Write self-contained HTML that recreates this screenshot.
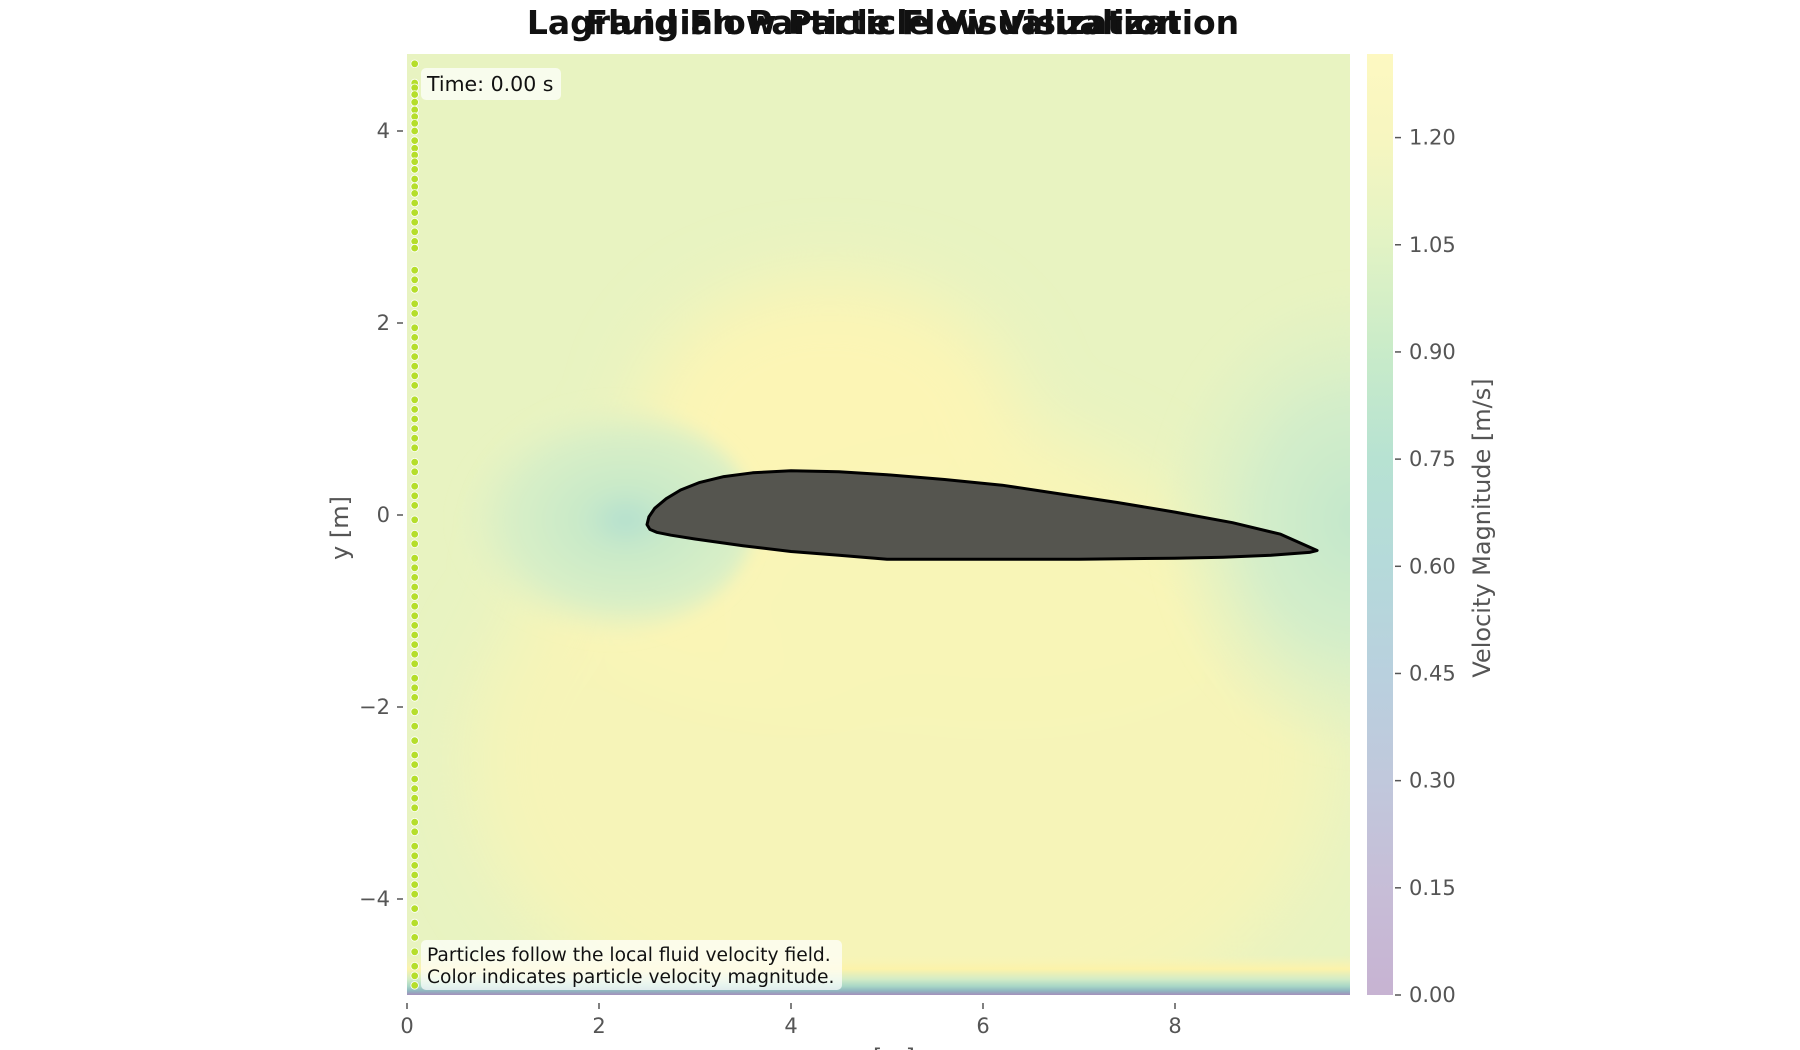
<!DOCTYPE html>
<html><head><meta charset="utf-8">
<style>
html,body{margin:0;padding:0;background:#fff;}
#wrap{position:relative;width:1800px;height:1050px;overflow:hidden;font-family:"DejaVu Sans","Liberation Sans",sans-serif;}
</style></head>
<body>
<div id="wrap">
<svg id="chart" width="1800" height="1050" xmlns="http://www.w3.org/2000/svg">
<defs>
<clipPath id="clip"><rect x="407" y="54" width="943" height="941"/></clipPath>
<filter id="blur" x="-50%" y="-50%" width="200%" height="200%"><feGaussianBlur stdDeviation="35"/></filter>
<filter id="blur2" x="-50%" y="-50%" width="200%" height="200%"><feGaussianBlur stdDeviation="8"/></filter>
<radialGradient id="gLead" cx="0.62" cy="0.5"><stop offset="0" stop-color="#b3dfcf"/><stop offset="0.25" stop-color="#c8e9c9"/><stop offset="0.7" stop-color="#d9efc6"/><stop offset="1" stop-color="#e0f1c5" stop-opacity="0"/></radialGradient>
<radialGradient id="gTrail"><stop offset="0" stop-color="#c3e7cc"/><stop offset="0.5" stop-color="#d4eec9"/><stop offset="1" stop-color="#def1c6" stop-opacity="0"/></radialGradient>
<linearGradient id="gBottom" x1="0" y1="0" x2="0" y2="1">
<stop offset="0" stop-color="#f9f3b4" stop-opacity="0"/>
<stop offset="0.35" stop-color="#fcf3aa"/>
<stop offset="0.6" stop-color="#d4ecc6"/>
<stop offset="0.78" stop-color="#a9d7c6"/>
<stop offset="0.9" stop-color="#8fb5c0"/>
<stop offset="1" stop-color="#a48fbb"/>
</linearGradient>
<linearGradient id="cbar" x1="0" y1="1" x2="0" y2="0">
<stop offset="0" stop-color="#c7b3d2"/>
<stop offset="0.11" stop-color="#c7bdd7"/>
<stop offset="0.23" stop-color="#c0c8dc"/>
<stop offset="0.34" stop-color="#b9d0de"/>
<stop offset="0.46" stop-color="#b5dada"/>
<stop offset="0.57" stop-color="#b7e2d2"/>
<stop offset="0.68" stop-color="#c8ebc9"/>
<stop offset="0.8" stop-color="#e2f3c4"/>
<stop offset="0.91" stop-color="#f7f6c0"/>
<stop offset="1" stop-color="#fdf8c1"/>
</linearGradient>
</defs>
<g id="field" clip-path="url(#clip)">
<rect x="407" y="54" width="943" height="941" fill="#e8f3c1"/>
<g filter="url(#blur)">
<ellipse cx="900" cy="760" rx="430" ry="300" fill="#f6f4b8"/>
<ellipse cx="860" cy="560" rx="330" ry="150" fill="#faf5b6"/>
<ellipse cx="830" cy="430" rx="190" ry="150" fill="#fcf5b5"/>
<ellipse cx="1000" cy="600" rx="260" ry="120" fill="#f8f5b7"/>
</g>
<ellipse cx="585" cy="520" rx="170" ry="120" fill="url(#gLead)" filter="url(#blur2)"/>
<ellipse cx="1356" cy="520" rx="200" ry="240" fill="url(#gTrail)" filter="url(#blur2)"/>
<rect x="407" y="955" width="943" height="40" fill="url(#gBottom)"/>
</g>
<g id="airfoil-layer" clip-path="url(#clip)"></g>
<g id="particles" clip-path="url(#clip)"></g>
<g id="axes"></g>
<rect x="1367" y="54" width="26" height="941" fill="url(#cbar)"/>
<g id="cbaxis"></g>
<text x="883" y="34" text-anchor="middle" font-family="DejaVu Sans,sans-serif" font-weight="bold" font-size="33" fill="#111">Lagrangian Particle Flow Visualization</text>
<text x="883" y="34" text-anchor="middle" font-family="DejaVu Sans,sans-serif" font-weight="bold" font-size="33" fill="#111">Fluid Flow Particle Visualization</text>
<text transform="translate(348,528) rotate(-90)" text-anchor="middle" font-size="24" fill="#555">y [m]</text>
<text x="883" y="1066" text-anchor="middle" font-size="24" fill="#555">x [m]</text>
<text transform="translate(1490,528) rotate(-90)" text-anchor="middle" font-size="24" fill="#555">Velocity Magnitude [m/s]</text>
<g>
<rect x="421" y="68" width="140" height="32" rx="5" fill="#fff" fill-opacity="0.7"/>
<text x="427" y="91" font-size="20.5" fill="#111">Time: 0.00 s</text>
</g>
<g>
<rect x="421" y="940" width="421" height="50" rx="5" fill="#fff" fill-opacity="0.7"/>
<text x="427" y="961" font-size="18.7" fill="#111">Particles follow the local fluid velocity field.</text>
<text x="427" y="983" font-size="18.7" fill="#111">Color indicates particle velocity magnitude.</text>
</g>
</svg>
</div>
<script>
const xTicks = [0, 2, 4, 6, 8];
const yTicks = [-4, -2, 0, 2, 4];
const yTickLabels = ["\u22124", "\u22122", "0", "2", "4"];
const cbTicks = [0, 0.15, 0.30, 0.45, 0.60, 0.75, 0.90, 1.05, 1.20];
const cbTickLabels = ["0.00","0.15","0.30","0.45","0.60","0.75","0.90","1.05","1.20"];
const airfoilX = [2.5,2.52,2.58,2.7,2.85,3.05,3.3,3.6,4.0,4.5,5.0,5.6,6.2,6.8,7.4,8.0,8.6,9.1,9.48,9.4,9.0,8.5,8.0,7.0,6.0,5.0,4.5,4.0,3.5,3.0,2.75,2.6,2.53,2.5];
const airfoilY = [-0.1,-0.02,0.07,0.17,0.26,0.34,0.4,0.44,0.46,0.45,0.42,0.37,0.31,0.22,0.13,0.03,-0.08,-0.2,-0.37,-0.39,-0.42,-0.44,-0.45,-0.46,-0.46,-0.46,-0.42,-0.38,-0.32,-0.25,-0.21,-0.18,-0.15,-0.1];
const particleX = 0.08;
const particleY = [4.7,4.5,4.45,4.38,4.3,4.22,4.15,4.08,4.0,3.9,3.82,3.75,3.68,3.6,3.5,3.42,3.35,3.25,3.15,3.05,2.95,2.85,2.78,2.55,2.45,2.35,2.2,2.1,1.95,1.85,1.75,1.65,1.55,1.45,1.35,1.2,1.1,1.0,0.9,0.8,0.7,0.55,0.45,0.3,0.2,0.1,-0.05,-0.2,-0.3,-0.45,-0.55,-0.65,-0.75,-0.85,-0.95,-1.05,-1.15,-1.25,-1.35,-1.45,-1.55,-1.7,-1.8,-1.9,-2.05,-2.2,-2.35,-2.5,-2.6,-2.75,-2.85,-2.95,-3.05,-3.2,-3.3,-3.45,-3.55,-3.65,-3.75,-3.85,-3.95,-4.1,-4.25,-4.4,-4.55,-4.7,-4.8,-4.9];
const cbMax = 1.317;

const NS = "http://www.w3.org/2000/svg";
const X0 = 407, UNIT = 96, Y0 = 515;
function sx(v){ return X0 + v * UNIT; }
function sy(v){ return Y0 - v * UNIT; }
function cy(v){ return 995 - v / cbMax * 941; }
function mk(tag, attrs, parent){
  const e = document.createElementNS(NS, tag);
  for (const k in attrs) e.setAttribute(k, attrs[k]);
  parent.appendChild(e);
  return e;
}
const axes = document.getElementById('axes');
xTicks.forEach((t) => {
  const l = mk('line', {x1: sx(t), x2: sx(t), y1: 1003, y2: 1009, stroke: '#555', 'stroke-width': 1.5}, axes);
  
  
  const tx = mk('text', {x: sx(t), y: 1033, 'text-anchor': 'middle', 'font-size': 21, fill: '#555'}, axes);
  
  
  tx.textContent = String(t);
});
yTicks.forEach((t, i) => {
  const l = mk('line', {x1: 397, x2: 403, y1: sy(t), y2: sy(t), stroke: '#555', 'stroke-width': 1.5}, axes);
  
  
  const tx = mk('text', {x: 390, y: sy(t) + 7, 'text-anchor': 'end', 'font-size': 21, fill: '#555'}, axes);
  
  
  tx.textContent = yTickLabels[i];
});
const cba = document.getElementById('cbaxis');
cbTicks.forEach((t, i) => {
  const l = mk('line', {x1: 1395, x2: 1401, y1: cy(t), y2: cy(t), stroke: '#555', 'stroke-width': 1.5}, cba);
  
  
  const tx = mk('text', {x: 1409, y: cy(t) + 7, 'font-size': 21, fill: '#555'}, cba);
  
  
  tx.textContent = cbTickLabels[i];
});
const af = document.getElementById('airfoil-layer');
let d = '';
airfoilX.forEach((x, i) => { d += (i ? 'L' : 'M') + sx(x).toFixed(1) + ',' + sy(airfoilY[i]).toFixed(1); });
d += 'Z';
const p = mk('path', {d: d, fill: '#55554f', stroke: '#000', 'stroke-width': 3, 'stroke-linejoin': 'round'}, af);


const pg = document.getElementById('particles');
particleY.forEach((y) => {
  const c = mk('circle', {cx: sx(particleX), cy: sy(y), r: 3.8, fill: '#b5de2b', stroke: '#fff', 'stroke-width': 0.8}, pg);
  
  
});
</script>
</body></html>
